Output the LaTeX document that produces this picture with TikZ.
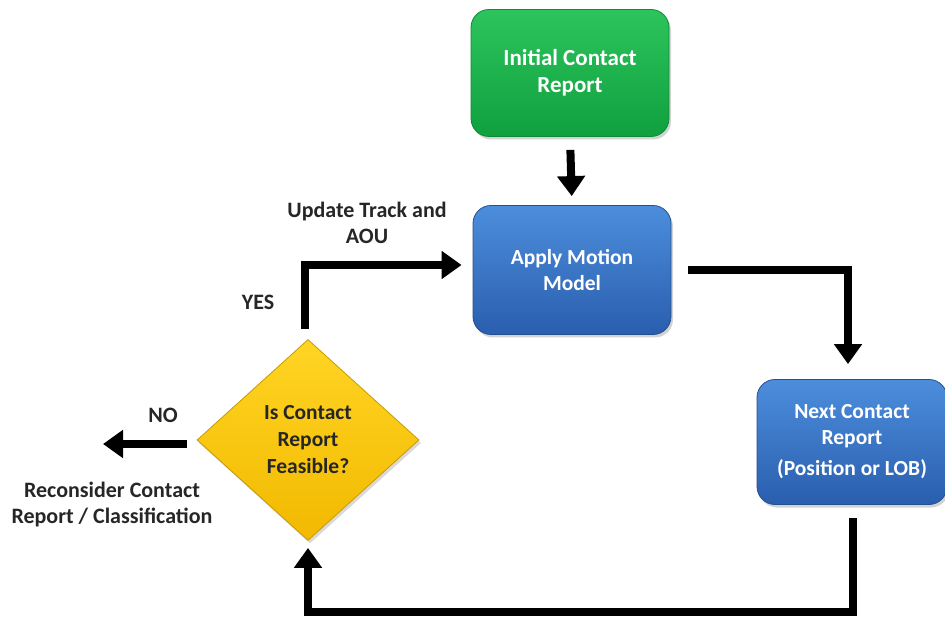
\documentclass[tikz,border=0pt]{standalone}
\usepackage{fontspec}
\setmainfont{Carlito}
\usetikzlibrary{shapes.geometric,arrows.meta,shadows}
\definecolor{gtop}{HTML}{2CC45C}
\definecolor{gbot}{HTML}{10A03F}
\definecolor{gedge}{HTML}{0E8A36}
\definecolor{btop}{HTML}{4C8EDC}
\definecolor{bbot}{HTML}{2A5EAE}
\definecolor{bedge}{HTML}{24508F}
\definecolor{ytop}{HTML}{FFD524}
\definecolor{ybot}{HTML}{F2B900}
\definecolor{yedge}{HTML}{C99A00}
\tikzset{
  boxbase/.style={rounded corners=18pt, draw, line width=0.8pt, align=center, text=white,
    font=\fontsize{21.5}{26}\selectfont\bfseries, inner sep=0pt,
    drop shadow={opacity=0.35, shadow xshift=2pt, shadow yshift=-3pt}},
  greenbox/.style={boxbase, draw=gedge, top color=gtop, bottom color=gbot,
    font=\fontsize{23}{27}\selectfont\bfseries},
  bluebox/.style={boxbase, draw=bedge, top color=btop, bottom color=bbot},
  decision/.style={diamond, draw=yedge, line width=0.8pt, top color=ytop, bottom color=ybot,
    minimum width=222pt, minimum height=201pt, inner sep=0pt, align=center,
    font=\fontsize{21.5}{27}\selectfont\bfseries, text=black!85,
    drop shadow={opacity=0.3, shadow xshift=2pt, shadow yshift=-3pt}},
  flow/.style={line width=8pt, line join=miter, -{Triangle[length=20pt,width=27pt]}},
  lbl/.style={align=center, font=\fontsize{22}{26}\selectfont\bfseries, text=black!85}
}
\begin{document}
\begin{tikzpicture}[x=1pt,y=-1pt]
\useasboundingbox (0,0) rectangle (945,617);
\node[greenbox, minimum width=198pt, minimum height=127pt] (init) at (570,73) {Initial Contact\\Report};
\node[bluebox, minimum width=198pt, minimum height=129pt] (apply) at (572,270) {Apply Motion\\Model};
\node[bluebox, minimum width=190pt, minimum height=125pt] (next) at (852,442) {Next Contact\\Report\\[5pt](Position or LOB)};
\node[decision] (dec) at (308,440) {Is Contact\\Report\\Feasible?};
\coordinate (c1) at (848,270);
\coordinate (c2) at (853,612);
\coordinate (c3) at (308,612);
\coordinate (c4) at (305,265);
\coordinate (noend) at (103,444);
\draw[flow, shorten <=13pt, shorten >=9pt] (init.south) -- (apply.north);
\draw[flow, shorten <=17pt, shorten >=15pt] (apply.east) -- (c1) -- (c1 |- next.north);
\draw[flow, shorten <=13pt, shorten >=7pt] (c2 |- next.south) -- (c2) -- (c3) -- (dec.south);
\draw[flow, shorten <=10pt, shorten >=11pt] (c4 |- dec.north) -- (c4) -- (c4 -| apply.west);
\draw[flow, shorten <=10pt] (dec.west |- noend) -- (noend);
\node[lbl] (upd) at (367,223) {Update Track and\\AOU};
\node[lbl] (yes) at (258,302) {YES};
\node[lbl] (no) at (163,415) {NO};
\node[lbl] (recon) at (112,505) {Reconsider Contact\\Report / Classification};
\end{tikzpicture}
\end{document}
